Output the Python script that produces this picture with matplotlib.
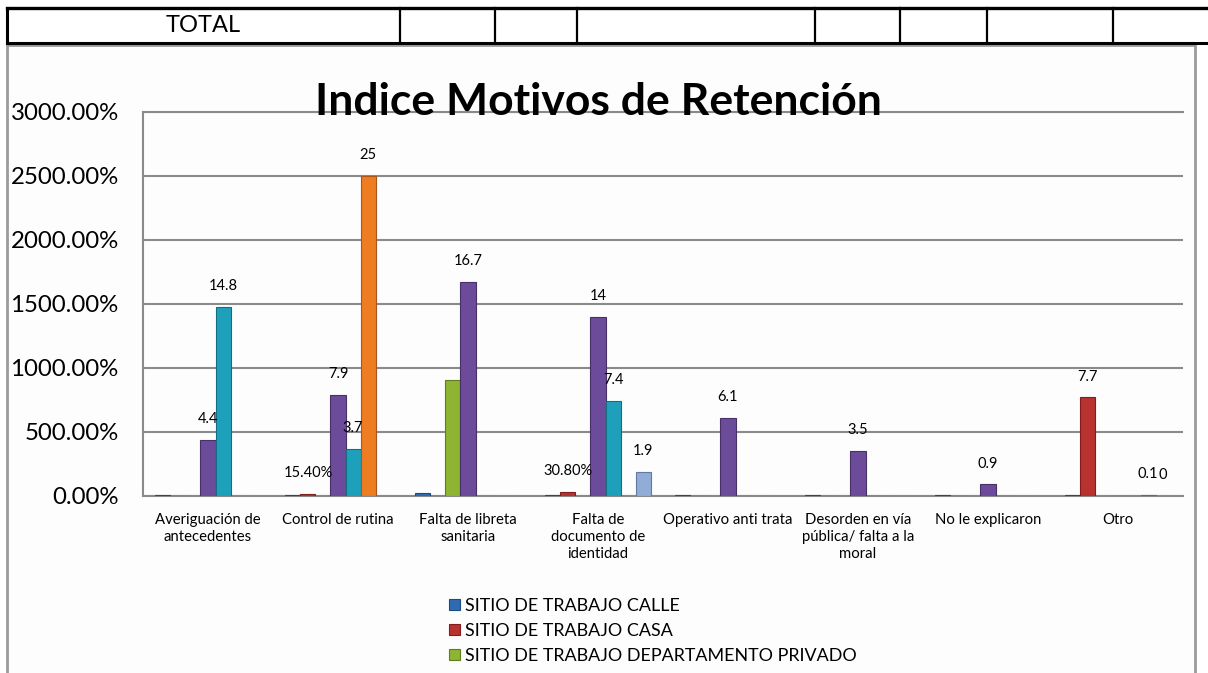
import matplotlib.pyplot as plt
import numpy as np
from matplotlib.lines import Line2D
from matplotlib.patches import Rectangle
from matplotlib.ticker import FuncFormatter

plt.rcParams['font.family'] = ['Lato', 'DejaVu Sans']

W, H = 1208, 673

categorias = ['Averiguación de\nantecedentes', 'Control de rutina',
              'Falta de libreta\nsanitaria', 'Falta de\ndocumento de\nidentidad',
              'Operativo anti trata', 'Desorden en vía\npública/ falta a la\nmoral',
              'No le explicaron', 'Otro']

nombres = ['SITIO DE TRABAJO CALLE', 'SITIO DE TRABAJO CASA',
           'SITIO DE TRABAJO DEPARTAMENTO PRIVADO']

# one list per series, values as fractions (1 = 100%)
calle = [0.04, 0.04, 0.2, 0.04, 0.04, 0.04, 0.04, 0.04]
casa = [0, 0.154, 0, 0.308, 0, 0, 0, 7.7]
depto = [0, 0, 9.1, 0, 0, 0, 0, 0]
serie4 = [4.4, 7.9, 16.7, 14, 6.1, 3.5, 0.9, 0]
serie5 = [14.8, 3.7, 0, 7.4, 0, 0, 0, 0]
serie6 = [0, 25, 0, 0, 0, 0, 0, 0.1]
serie7 = [0, 0, 0, 1.9, 0, 0, 0, 0]

# data labels as they appear on the chart ('' = none)
et_calle = [''] * 8
et_casa = ['', '15.40%', '', '30.80%', '', '', '', '7.7']
et_depto = [''] * 8
et_serie4 = ['4.4', '7.9', '16.7', '14', '6.1', '3.5', '0.9', '']
et_serie5 = ['14.8', '3.7', '', '7.4', '', '', '', '']
et_serie6 = ['', '25', '', '', '', '', '', '0.1']
et_serie7 = ['', '', '', '1.9', '', '', '', '0']

series = [calle, casa, depto, serie4, serie5, serie6, serie7]
etiquetas = [et_calle, et_casa, et_depto, et_serie4, et_serie5, et_serie6, et_serie7]
colores = ['#2f6bb3', '#b83230', '#8db532', '#6c4c9a', '#1fa0ba', '#ee7d22', '#91acd6']
bordes = ['#1d4a80', '#7e1f1d', '#5f7d1f', '#463065', '#136e81', '#a8561a', '#6179a0']

fig = plt.figure(figsize=(W / 100, H / 100), dpi=100)


def px(x, y):
    return x / W, 1 - y / H


# spreadsheet row with TOTAL
fig.add_artist(Line2D(*zip(px(7, 8), px(1208, 8)), color='black', lw=2.4))
fig.add_artist(Line2D(*zip(px(7, 43), px(1208, 43)), color='black', lw=2.2))
fig.add_artist(Line2D(*zip(px(7, 8), px(7, 43)), color='black', lw=2.2))
for xc in [400, 495, 577, 815, 900, 987, 1113]:
    fig.add_artist(Line2D(*zip(px(xc, 8), px(xc, 43)), color='black', lw=1.6))
fig.text(*px(203, 26), 'TOTAL', ha='center', va='center', fontsize=17)

# chart frame
x0, y0 = px(7, 680)
x1, y1 = px(1195, 45)
fig.add_artist(Rectangle((x0, y0), x1 - x0, y1 - y0, transform=fig.transFigure,
                         facecolor='#fdfdfd', edgecolor='#9b9b9b', lw=2, zorder=0))

ax = fig.add_axes([143 / W, (H - 496) / H, (1183 - 143) / W, (496 - 112) / H])
ax.set_facecolor('none')

x = np.arange(len(categorias))
w = 0.808 / len(series)
for j, (vals, labs) in enumerate(zip(series, etiquetas)):
    pos = x + (j - 3) * w
    ax.bar(pos, vals, width=w, color=colores[j], edgecolor=bordes[j], lw=0.8, zorder=3,
           label=nombres[j] if j < 3 else '_nolegend_')
    for xi, v, t in zip(pos, vals, labs):
        if t:
            ax.annotate(t, (xi, v), xytext=(0, 15), textcoords='offset points',
                        ha='center', va='center', fontsize=10.5, zorder=5)

ax.set_xlim(-0.5, len(categorias) - 0.5)
ax.set_ylim(0, 30)
ax.set_yticks(np.arange(0, 31, 5))
ax.yaxis.set_major_formatter(FuncFormatter(lambda v, p: f'{v * 100:.2f}%'))
ax.tick_params(axis='y', length=0, pad=17.5, labelsize=17.3)
ax.set_xticks(x)
ax.set_xticklabels(categorias, fontsize=10.7, linespacing=1.3, va='top')
ax.tick_params(axis='x', length=0, pad=12)
ax.grid(axis='y', color='#8a8a8a', lw=1.5, zorder=0)
for s in ['left', 'bottom', 'top']:
    ax.spines[s].set_color('#8a8a8a')
    ax.spines[s].set_linewidth(1.5)
ax.spines['right'].set_visible(False)

fig.text(*px(598, 102), 'Indice Motivos de Retención', ha='center', va='center',
         fontsize=32, fontweight='bold')

fig.legend(loc='upper left', bbox_to_anchor=px(449, 598), frameon=False,
           fontsize=12.9, handlelength=0.6, handleheight=0.6, handletextpad=0.3,
           labelspacing=0.5, borderpad=0, borderaxespad=0)

plt.savefig('out.png', dpi=100)
plt.close()
